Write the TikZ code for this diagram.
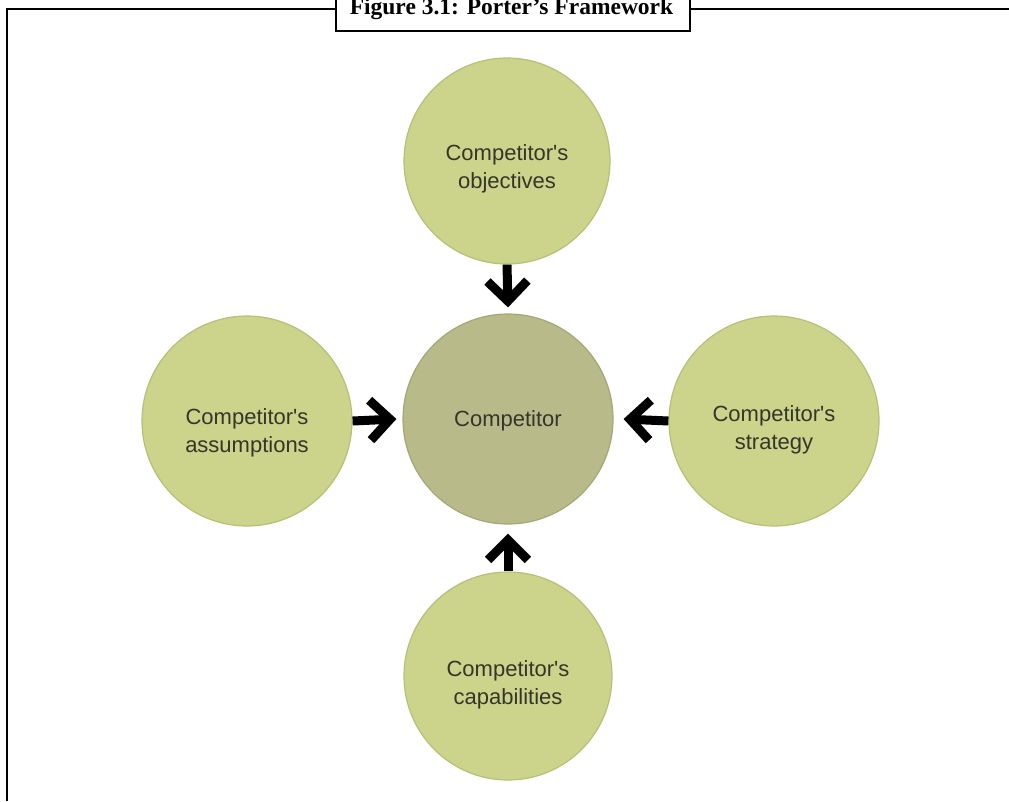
\documentclass[tikz,border=0pt]{standalone}
\usepackage{fontspec}
\setmainfont{Liberation Serif}
\newfontfamily\lsans{Liberation Sans}
\usetikzlibrary{arrows.meta,calc}
\definecolor{outerfill}{HTML}{CCD38B}
\definecolor{outerrim}{HTML}{B7BF78}
\definecolor{ctrfill}{HTML}{B9BA8A}
\definecolor{ctrrim}{HTML}{A6A777}
\definecolor{txt}{HTML}{35362A}
\tikzset{
  outerc/.style={circle, fill=outerfill, draw=outerrim, line width=1.2pt, minimum size=#1, inner sep=0pt},
  ctrc/.style={circle, fill=ctrfill, draw=ctrrim, line width=1.2pt, minimum size=210pt, inner sep=0pt},
  lbl/.style={font=\lsans\fontsize{22}{28}\selectfont, text=txt, align=center},
  bigarrow/.style={line width=9pt, -{Straight Barb[length=20pt,width=40pt,line width=9pt]}},
  frame/.style={line width=2.4pt, black}
}
\begin{document}
\begin{tikzpicture}[x=1pt,y=-1pt]
\useasboundingbox (0,0) rectangle (1009,801);
% frame
\coordinate (fl) at (7,801);
\coordinate (ftl) at (7,9);
\coordinate (ftr) at (1012,9);
\draw[frame] (fl) -- (ftl) -- (ftr);
% title box
\node[draw, frame, fill=white, minimum width=354pt, minimum height=50pt, anchor=south west, inner sep=0pt] (tb) at (335,32) {};
\node[font=\bfseries\fontsize{23.5}{28}\selectfont, anchor=base] (title) at (511.5,14) {Figure 3.1: Porter's Framework};
% circles
\node[ctrc] (ctr) at (508,419) {};
\node[outerc=206pt] (top) at (507,161) {};
\node[outerc=210pt] (left) at (247,421) {};
\node[outerc=210pt] (right) at (774,421) {};
\node[outerc=208pt] (bot) at (508,676) {};
% labels
\node[lbl] (tctr) at (508,421) {Competitor};
\node[lbl] (ttop) at ($(top.center)+(0,8)$) {Competitor's\\objectives};
\node[lbl] (tleft) at ($(left.center)+(0,12)$) {Competitor's\\assumptions};
\node[lbl] (tright) at ($(right.center)+(0,9)$) {Competitor's\\strategy};
\node[lbl] (tbot) at ($(bot.center)+(0,9)$) {Competitor's\\capabilities};
% arrows
\draw[bigarrow] (top.south) -- ($(ctr.north)+(0,-6)$);
\draw[bigarrow] (left.east) -- ($(ctr.west)+(-6,0)$);
\draw[bigarrow] (right.west) -- ($(ctr.east)+(10,0)$);
\draw[bigarrow] (bot.north) -- ($(ctr.south)+(0,9)$);
\end{tikzpicture}
\end{document}
